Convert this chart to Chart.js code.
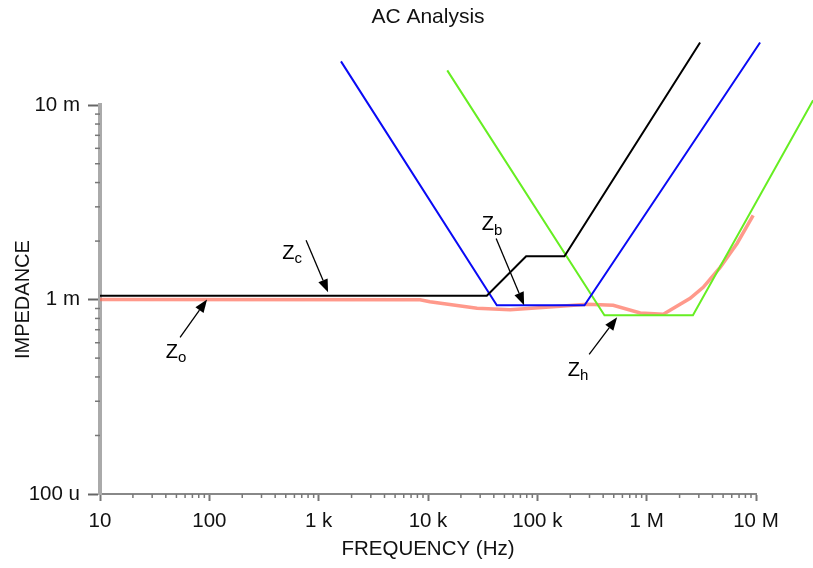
<!DOCTYPE html>
<html>
<head>
<meta charset="utf-8">
<script src="https://cdn.jsdelivr.net/npm/chart.js@4.4.0/dist/chart.umd.min.js"></script>
<style>
  html, body { margin: 0; padding: 0; background: #fff; }
  #wrap { width: 813px; height: 568px; }
</style>
</head>
<body>
<div id="wrap"><canvas id="acChart"></canvas></div>
<script>
// axis decades and their labels
var xTicks = [10, 100, 1e3, 1e4, 1e5, 1e6, 1e7];
var xTickLabels = ['10', '100', '1 k', '10 k', '100 k', '1 M', '10 M'];
var yTicks = [1e-4, 1e-3, 1e-2];
var yTickLabels = ['100 u', '1 m', '10 m'];

// Zo - output impedance (salmon trace)
var zoFreq = [10, 8.47e3, 1.04e4, 2.81e4, 5.64e4, 1.62e5, 2.86e5, 4.94e5, 8.73e5, 1.42e6, 2.50e6, 3.29e6, 4.70e6, 6.73e6, 9.42e6];
var zoImp  = [1.000e-3, 0.998e-3, 0.974e-3, 0.902e-3, 0.888e-3, 0.924e-3, 0.946e-3, 0.935e-3, 0.853e-3, 0.840e-3, 1.015e-3, 1.157e-3, 1.466e-3, 1.95e-3, 2.71e-3];

// Zc - black
var zcFreq = [10, 3.45e4, 7.9e4, 1.77e5, 3.08e6];
var zcImp  = [1.047e-3, 1.047e-3, 1.671e-3, 1.671e-3, 21.0e-3];

// Zb - blue
var zbFreq = [1.60e3, 4.26e4, 2.70e5, 1.09e7];
var zbImp  = [16.8e-3, 0.935e-3, 0.935e-3, 21.0e-3];

// Zh - green
var zhFreq = [1.50e4, 4.11e5, 2.65e6, 3.33e7];
var zhImp  = [15.1e-3, 0.830e-3, 0.830e-3, 10.6e-3];

// callouts: subscript, label centre, arrow tail, arrow tip  (freq, impedance)
var calloutSub   = ['c', 'o', 'b', 'h'];
var calloutLabel = [[571, 1.69e-3], [49.5, 0.523e-3], [3.85e4, 2.38e-3], [2.36e5, 0.423e-3]];
var calloutTail  = [[767, 2.02e-3], [54, 0.640e-3], [4.20e4, 2.065e-3], [2.98e5, 0.523e-3]];
var calloutTip   = [[1219, 1.09e-3], [95.3, 1.0e-3], [7.57e4, 0.935e-3], [5.37e5, 0.811e-3]];

function pts(fs, zs) {
    return fs.map(function(f, i) { return {x: f, y: zs[i]}; });
}

Chart.defaults.font.family = "'Liberation Sans', Arial, sans-serif";
Chart.defaults.color = '#111';

var bgPlugin = {
    id: 'bg',
    beforeDraw: function(chart) {
        var c = chart.ctx;
        c.save();
        c.fillStyle = '#fff';
        c.fillRect(0, 0, chart.width, chart.height);
        c.restore();
    }
};

// small ticks between the decades
var minorTicks = {
    id: 'minorTicks',
    afterDraw: function(chart) {
        var c = chart.ctx, xs = chart.scales.x, ys = chart.scales.y;
        c.save();
        c.strokeStyle = '#777';
        c.lineWidth = 1.5;
        for (var d = 1; d < 7; d++) {
            for (var k = 2; k < 10; k++) {
                var px = xs.getPixelForValue(k * Math.pow(10, d));
                c.beginPath(); c.moveTo(px, ys.bottom); c.lineTo(px, ys.bottom + 4); c.stroke();
            }
        }
        for (var e = -4; e < -2; e++) {
            for (var k2 = 2; k2 < 10; k2++) {
                var py = ys.getPixelForValue(k2 * Math.pow(10, e));
                c.beginPath(); c.moveTo(xs.left, py); c.lineTo(xs.left - 5, py); c.stroke();
            }
        }
        c.restore();
    }
};

var callouts = {
    id: 'callouts',
    afterDatasetsDraw: function(chart) {
        var c = chart.ctx, xs = chart.scales.x, ys = chart.scales.y;
        c.save();
        c.strokeStyle = '#000';
        c.fillStyle = '#000';
        for (var i = 0; i < calloutSub.length; i++) {
            var x0 = xs.getPixelForValue(calloutTail[i][0]), y0 = ys.getPixelForValue(calloutTail[i][1]);
            var x1 = xs.getPixelForValue(calloutTip[i][0]),  y1 = ys.getPixelForValue(calloutTip[i][1]);
            var ang = Math.atan2(y1 - y0, x1 - x0);
            var hl = 13, hw = 5;
            var bx = x1 - hl * Math.cos(ang), by = y1 - hl * Math.sin(ang);
            c.lineWidth = 1.3;
            c.beginPath(); c.moveTo(x0, y0); c.lineTo(bx, by); c.stroke();
            c.beginPath();
            c.moveTo(x1, y1);
            c.lineTo(bx + hw * Math.sin(ang), by - hw * Math.cos(ang));
            c.lineTo(bx - hw * Math.sin(ang), by + hw * Math.cos(ang));
            c.closePath(); c.fill();

            var lx = xs.getPixelForValue(calloutLabel[i][0]), ly = ys.getPixelForValue(calloutLabel[i][1]);
            c.font = "20px 'Liberation Sans', Arial, sans-serif";
            var wz = c.measureText('Z').width;
            c.font = "15px 'Liberation Sans', Arial, sans-serif";
            var ws = c.measureText(calloutSub[i]).width;
            var sx = lx - (wz + ws) / 2;
            c.textBaseline = 'middle';
            c.textAlign = 'left';
            c.font = "20px 'Liberation Sans', Arial, sans-serif";
            c.fillText('Z', sx, ly - 2);
            c.font = "15px 'Liberation Sans', Arial, sans-serif";
            c.fillText(calloutSub[i], sx + wz, ly + 4);
        }
        c.restore();
    }
};

var ctx = document.getElementById('acChart').getContext('2d');
var acChart = new Chart(ctx, {
    type: 'line',
    data: {
        datasets: [{
            label: 'Zc',
            data: pts(zcFreq, zcImp),
            borderColor: '#000000',
            borderWidth: 2
        }, {
            label: 'Zb',
            data: pts(zbFreq, zbImp),
            borderColor: '#0a0af5',
            borderWidth: 2
        }, {
            label: 'Zh',
            data: pts(zhFreq, zhImp),
            borderColor: '#66ee22',
            borderWidth: 2
        }, {
            label: 'Zo',
            data: pts(zoFreq, zoImp),
            borderColor: 'rgba(255, 110, 90, 0.7)',
            borderWidth: 3.5
        }]
    },
    options: {
        responsive: true,
        maintainAspectRatio: false,
        animation: false,
        clip: false,
        elements: {
            point: { radius: 0 },
            line: { tension: 0 }
        },
        layout: { padding: { left: 0, right: 57, top: 0, bottom: 0 } },
        scales: {
            x: {
                type: 'logarithmic',
                min: 10,
                max: 1e7,
                afterBuildTicks: function(scale) {
                    scale.ticks = xTicks.map(function(v) { return {value: v}; });
                },
                afterFit: function(scale) { scale.height = 74; },
                ticks: {
                    autoSkip: false,
                    maxRotation: 0,
                    padding: 8,
                    font: { size: 20.5 },
                    color: '#111',
                    callback: function(v, i) { return xTickLabels[i]; }
                },
                grid: { drawOnChartArea: false, tickLength: 7, tickColor: '#777', tickWidth: 2 },
                border: { color: '#888', width: 2 },
                title: {
                    display: true,
                    text: 'FREQUENCY (Hz)',
                    font: { size: 20.5 },
                    color: '#111',
                    padding: { top: 0, bottom: 6 }
                }
            },
            y: {
                type: 'logarithmic',
                min: 1e-4,
                max: 1e-2,
                afterBuildTicks: function(scale) {
                    scale.ticks = yTicks.map(function(v) { return {value: v}; });
                },
                afterFit: function(scale) { scale.width = 100; },
                ticks: {
                    autoSkip: false,
                    padding: 8,
                    font: { size: 20.5 },
                    color: '#111',
                    callback: function(v, i) { return yTickLabels[i]; }
                },
                grid: { drawOnChartArea: false, tickLength: 12, tickColor: '#666', tickWidth: 2 },
                border: { color: '#aaa', width: 4 },
                title: {
                    display: true,
                    text: 'IMPEDANCE',
                    font: { size: 20 },
                    color: '#111',
                    padding: { top: 11, bottom: 0 }
                }
            }
        },
        plugins: {
            legend: { display: false },
            tooltip: { enabled: false },
            title: {
                display: true,
                fullSize: false,
                text: 'AC Analysis',
                color: '#111',
                font: { size: 21, weight: 'normal' },
                padding: { top: 5, bottom: 75 }
            }
        }
    },
    plugins: [bgPlugin, minorTicks, callouts]
});
</script>
</body>
</html>
